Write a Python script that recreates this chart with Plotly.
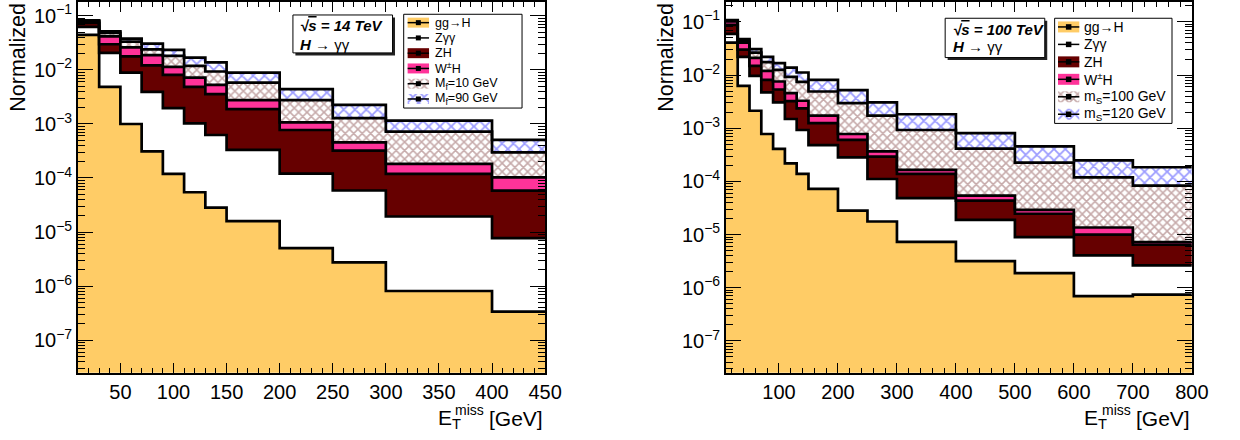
import numpy as np
import plotly.graph_objects as go

# ---------------------------------------------------------------------------
# E_T^miss bin edges [GeV]
edges_14 = [10, 30, 50, 70, 90, 110, 130, 150, 200, 250, 300, 400, 450]
edges_100 = [10, 30, 50, 70, 90, 110, 130, 150, 200, 250, 300, 400, 500, 600, 700, 800]

# sqrt(s) = 14 TeV : normalised contribution of each stacked sample per bin
ggH_14 = [4.42e-2, 4.86e-3, 9.96e-4, 3.11e-4, 1.19e-4, 5.45e-5, 2.84e-5, 1.59e-5, 5.05e-6, 2.75e-6, 8.12e-7, 3.39e-7]
zgg_14 = [1.79e-2, 1.57e-2, 7.91e-3, 3.62e-3, 1.84e-3, 9.65e-4, 5.96e-4, 3.14e-4, 1.15e-4, 5.59e-5, 1.86e-5, 7.37e-6]
zh_14 = [1.15e-2, 9.20e-3, 8.84e-3, 8.17e-3, 6.13e-3, 3.84e-3, 2.94e-3, 1.55e-3, 6.52e-4, 2.62e-4, 9.96e-5, 5.09e-5]
wh_14 = [4.20e-3, 1.17e-2, 8.25e-3, 6.60e-3, 3.26e-3, 2.35e-3, 1.72e-3, 8.80e-4, 2.98e-4, 1.35e-4, 6.30e-5, 4.44e-5]
mf10_14 = [2.20e-3, 6.70e-3, 7.30e-3, 5.20e-3, 6.75e-3, 4.65e-3, 4.03e-3, 3.07e-3, 1.69e-3, 8.29e-4, 5.36e-4, 1.95e-4]
mf90_14 = [2.60e-3, 3.60e-3, 4.50e-3, 6.70e-3, 5.30e-3, 5.01e-3, 4.46e-3, 3.08e-3, 1.65e-3, 9.75e-4, 4.28e-4, 2.07e-4]

# sqrt(s) = 100 TeV
ggH_100 = [4.07e-2, 6.27e-3, 2.13e-3, 7.78e-4, 4.07e-4, 2.19e-4, 1.38e-4, 7.23e-5, 2.83e-5, 1.76e-5, 7.26e-6, 3.17e-6, 1.89e-6, 6.98e-7, 7.41e-7]
zgg_100 = [1.86e-2, 1.56e-2, 7.53e-3, 3.92e-3, 2.64e-3, 1.27e-3, 7.87e-4, 4.08e-4, 2.55e-4, 9.34e-5, 4.13e-5, 1.58e-5, 7.05e-6, 3.35e-6, 1.89e-6]
zh_100 = [2.82e-2, 8.20e-3, 5.24e-3, 3.43e-3, 2.30e-3, 1.75e-3, 1.43e-3, 7.70e-4, 3.18e-4, 1.81e-4, 8.94e-5, 2.47e-5, 1.57e-5, 5.95e-6, 3.81e-6]
wh_100 = [1.43e-2, 1.06e-2, 6.10e-3, 3.87e-3, 2.20e-3, 1.33e-3, 9.30e-4, 4.70e-4, 1.77e-4, 7.50e-5, 2.60e-5, 1.05e-5, 4.60e-6, 3.60e-6, 7.50e-7]
ms100_100 = [3.20e-3, 3.10e-3, 5.40e-3, 5.46e-3, 4.97e-3, 4.68e-3, 4.17e-3, 3.18e-3, 2.19e-3, 1.35e-3, 7.61e-4, 3.58e-4, 1.96e-4, 1.05e-4, 7.62e-5]
ms120_100 = [2.60e-3, 3.40e-3, 4.20e-3, 4.44e-3, 4.18e-3, 4.58e-3, 3.69e-3, 3.23e-3, 2.24e-3, 1.33e-3, 9.05e-4, 3.93e-4, 2.30e-4, 1.30e-4, 1.01e-4]

labels_14 = ["gg→H", "Zγγ", "ZH", "W<sup>±</sup>H", "M<sub>f</sub>=10 GeV", "M<sub>f</sub>=90 GeV"]
labels_100 = ["gg→H", "Zγγ", "ZH", "W<sup>±</sup>H", "m<sub>S</sub>=100 GeV", "m<sub>S</sub>=120 GeV"]
energy_14 = "14 TeV"
energy_100 = "100 TeV"

# ---------------------------------------------------------------------------
W, H = 1240, 440
FONT = "Liberation Sans, Arial, Helvetica, sans-serif"
ORANGE, DARKRED, PINK = "#FFCC66", "#660000", "#FF3399"
BROWN, BLUE = "#8E5555", "#3838FF"

STYLES = [
    dict(fillcolor=ORANGE),
    dict(fillcolor="white"),
    dict(fillcolor=DARKRED),
    dict(fillcolor=PINK),
    dict(fillcolor="white", fillpattern=dict(shape="x", fgcolor=BROWN, bgcolor="white", size=6, solidity=0.45)),
    dict(fillcolor="white", fillpattern=dict(shape="x", fgcolor=BLUE, bgcolor="white", size=8, solidity=0.4)),
]

fig = go.Figure()


def add_stack(edges, samples, xa, ya):
    """Stacked step histograms: each layer filled between its top and the one below."""
    tops = np.cumsum(np.array(samples, dtype=float), axis=0)
    for k, (top, st) in enumerate(zip(tops, STYLES)):
        y = [float(v) for v in top] + [float(top[-1])]
        fig.add_trace(go.Scatter(
            x=list(edges), y=y, mode="lines",
            line=dict(color="black", width=2.7, shape="hv"),
            fill="tozeroy" if k == 0 else "tonexty",
            xaxis=xa, yaxis=ya, hoverinfo="skip", **st))


add_stack(edges_14, [ggH_14, zgg_14, zh_14, wh_14, mf10_14, mf90_14], "x", "y")
add_stack(edges_100, [ggH_100, zgg_100, zh_100, wh_100, ms100_100, ms120_100], "x2", "y2")


# --- legends and labels drawn on a pixel-space overlay ---------------------
def px_trace(x, y, **kw):
    fig.add_trace(go.Scatter(x=x, y=y, xaxis="x3", yaxis="y3", hoverinfo="skip", **kw))


def rect(x0, y0, x1, y1):
    return [x0, x1, x1, x0, x0], [y0, y0, y1, y1, y0]


annotations = []


def text(x, y, s, size, xanchor="left", yanchor="middle", **kw):
    annotations.append(dict(x=x, y=y, xref="x3", yref="y3", text=s, showarrow=False,
                            xanchor=xanchor, yanchor=yanchor,
                            font=dict(family=FONT, size=size, color="black"), **kw))


def legend(box, row0, drow, sw, swh, tx, fsize, msize, labels):
    bx, by = rect(*box)
    px_trace(bx, by, mode="lines", fill="toself", fillcolor="white", line=dict(color="black", width=1))
    for i, (lab, st) in enumerate(zip(labels, STYLES)):
        yc = row0 + i * drow
        if i != 1:
            sx, sy = rect(sw[0], yc - swh / 2, sw[1], yc + swh / 2)
            px_trace(sx, sy, mode="none", fill="toself", **st)
        px_trace([sw[0], sw[1]], [yc, yc], mode="lines", line=dict(color="black", width=1.5))
        px_trace([(sw[0] + sw[1]) / 2], [yc], mode="markers",
                 marker=dict(symbol="square", size=msize, color="black"))
        text(tx, yc, lab, fsize)


def info_box(box, shadow, tx, ly1, ly2, energy, size):
    x0, y0, x1, y1 = box
    sx, sy = rect(x0 + shadow, y0 + shadow, x1 + shadow, y1 + shadow)
    px_trace(sx, sy, mode="none", fill="toself", fillcolor="#222222")
    bx, by = rect(*box)
    px_trace(bx, by, mode="lines", fill="toself", fillcolor="white", line=dict(color="black", width=1))
    text(tx, ly1, "<b><i>√<span style='text-decoration:overline'>s</span> = " + energy + "</i></b>", size)
    text(tx, ly2, "<b><i>H</i></b> → γγ", size)


def axis_titles(x_left_axis, x_right_axis):
    annotations.append(dict(x=x_left_axis, y=0, xref="x3", yref="y3", text="Normalized",
                            textangle=-90, showarrow=False, xanchor="center", yanchor="top",
                            font=dict(family=FONT, size=21.5, color="black")))
    r = x_right_axis
    text(r - 111, 419, "E<sub>T</sub>", 21)
    text(r - 93, 410, "miss", 14)
    text(r, 418, "[GeV]", 21, xanchor="right")


legend((409.3, 13.3, 529.3, 107.3), 21.7, 15.3, (413.3, 435), 10, 439, 12.5, 5, labels_14)
legend((1069.3, 17.3, 1188.3, 122.7), 26.0, 17.5, (1072.7, 1094.3), 11, 1097.3, 14, 5.5, labels_100)
info_box((297, 14, 398, 52), 2.5, 302, 25, 43.3, energy_14, 15)
info_box((958.3, 17.3, 1059.3, 56.7), 2.5, 964, 28.3, 46, energy_100, 15)
axis_titles(17.5, 552.7)
axis_titles(674.5, 1208.3)

# --- axes ------------------------------------------------------------------
YDOM = [1 - 372.7 / H, 1 - 1 / H]
DECADES = list(range(-7, 0))
major_y = [10.0 ** e for e in DECADES]
major_y_text = ["10<sup>−%d</sup>" % (-e) for e in DECADES]
minor_y = [m * 10.0 ** e for e in range(-8, 0) for m in range(2, 10)]

common = dict(showline=True, linecolor="black", linewidth=1.5, mirror="allticks",
              ticks="inside", tickcolor="black", tickwidth=1.2, showgrid=False, zeroline=False,
              tickfont=dict(family=FONT, size=20, color="black"))


def xaxis(dom, rng, dtick, mdtick, anchor):
    return dict(domain=dom, range=rng, anchor=anchor, tickmode="linear", dtick=dtick, tick0=0,
                ticklen=10,
                minor=dict(ticks="inside", ticklen=5, tickmode="linear", dtick=mdtick, tick0=0,
                           tickcolor="black", tickwidth=1.2, showgrid=False), **common)


def yaxis(rng, anchor):
    return dict(type="log", domain=YDOM, range=rng, anchor=anchor, tickmode="array",
                tickvals=major_y, ticktext=major_y_text, ticklen=15,
                minor=dict(ticks="inside", ticklen=7, tickmode="array", tickvals=minor_y,
                           tickcolor="black", tickwidth=1.2, showgrid=False), **common)


fig.update_layout(
    width=W, height=H, margin=dict(l=0, r=0, t=0, b=0),
    paper_bgcolor="white", plot_bgcolor="rgba(0,0,0,0)", showlegend=False,
    xaxis=xaxis([79 / W, 552.7 / W], [10, 450], 50, 10, "y"),
    yaxis=yaxis([-7.604, -0.745], "x"),
    xaxis2=xaxis([736 / W, 1208.4 / W], [10, 800], 100, 20, "y2"),
    yaxis2=yaxis([-7.600, -0.627], "x2"),
    xaxis3=dict(domain=[0, 1], range=[0, W], visible=False, anchor="y3", fixedrange=True),
    yaxis3=dict(domain=[0, 1], range=[H, 0], visible=False, anchor="x3", fixedrange=True),
    annotations=annotations,
)

fig.write_html("out.html")
